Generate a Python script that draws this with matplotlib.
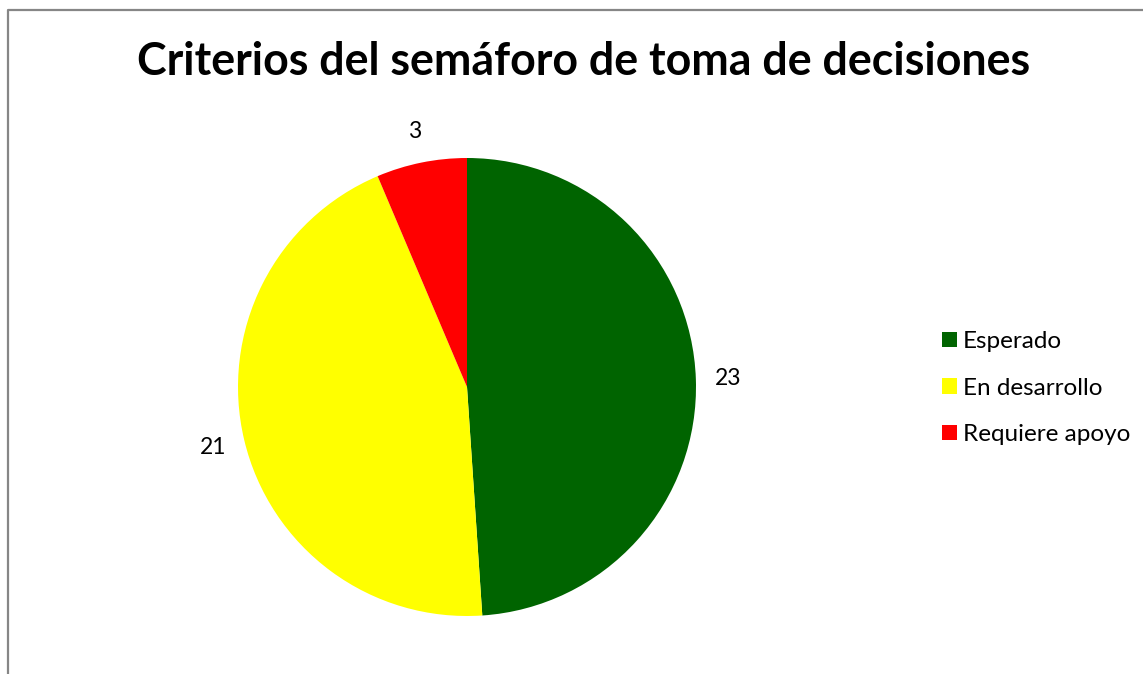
import matplotlib
matplotlib.use("Agg")
import matplotlib.pyplot as plt

categories = ["Esperado", "En desarrollo", "Requiere apoyo"]
values = [23, 21, 3]
colors = ["#006400", "#FFFF00", "#FF0000"]
title = "Criterios del semáforo de toma de decisiones"

W, H = 1143, 674
fig = plt.figure(figsize=(W / 100, H / 100), dpi=100)
ax = fig.add_axes([0, 0, 1, 1])

font = "Lato"
wedges, texts = ax.pie(values, colors=colors, startangle=90, counterclock=False,
                       center=(467, H - 387), radius=229, labels=[str(v) for v in values],
                       labeldistance=1.14, frame=True,
                       textprops=dict(fontsize=16.5, family=font, color="#000000"))
ax.set_xlim(0, W)
ax.set_ylim(0, H)
ax.set_aspect("equal")
ax.axis("off")
for t in texts:
    t.set_ha("center")
    t.set_va("center")

# chart-area border (left and top edges visible)
ax.plot([7.5, 7.5, W + 5], [-5, H - 9.5, H - 9.5], color="#868686", lw=1.6,
        solid_capstyle="butt")

ax.text(584, H - 75, title, ha="center", va="baseline", fontsize=32.2,
        fontweight="bold", family=font, color="#000000")

leg = ax.legend(wedges, categories, loc="upper left", bbox_to_anchor=(930 / W, 1 - 319 / H),
                frameon=False, prop=dict(family=font, size=17.5), handlelength=0.6,
                handleheight=0.6, handletextpad=0.25, labelspacing=1.05, borderpad=0)

fig.savefig("out.png", dpi=100)
